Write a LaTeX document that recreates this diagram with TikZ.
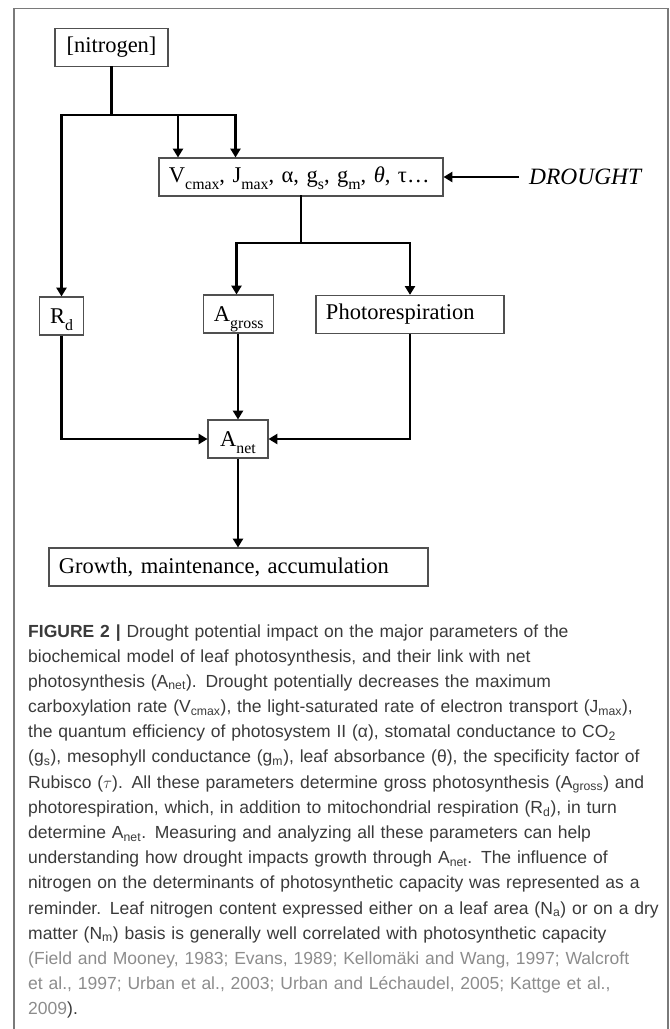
\documentclass[tikz,border=0pt]{standalone}
\usepackage{fontspec}
\setmainfont{Liberation Serif}
\newfontfamily\capfont{Liberation Sans}
\usepackage{tikz}
\usetikzlibrary{arrows.meta}
\definecolor{capgray}{HTML}{3A3A3A}
\definecolor{refgray}{HTML}{8C8C8C}
\definecolor{boxgray}{HTML}{505050}
\definecolor{framegray}{HTML}{7A7A7A}
\newcommand\lowsub[1]{\raisebox{-0.3em}[0pt][0pt]{\fontsize{13.5}{14}\selectfont #1}}

\begin{document}
\begin{tikzpicture}[x=0.03cm,y=-0.03cm]
\tikzstyle{every node}+=[inner sep=0pt]
\tikzstyle{box}=[draw=boxgray, line width=0.9pt, minimum height=1.14cm, font=\fontsize{19.2}{22}\selectfont]
\tikzstyle{lbox}=[box, inner xsep=0.3cm, align=left]
\tikzstyle{link}=[line width=1.9pt, line cap=rect]
\tikzstyle{arr}=[line width=1.9pt, -{Triangle[length=7.5pt,width=8.5pt]}]
\useasboundingbox (0,0) rectangle (670,1029);
\draw [framegray, line width=1pt] (14,1030) -- (14,8.3) -- (668,8.3) -- (668,1030);
% boxes
\node [box, minimum width=3.39cm] (nitro) at (111.5,47.5) {[nitrogen]};
\node [lbox, text width=7.92cm] (params) at (301,177)
  {\mbox{V\lowsub{cmax}, J\lowsub{max}, α, g\lowsub{s}, g\lowsub{m}, {\itshape θ}, τ\ldots}};
\node [anchor=west, inner xsep=0.3cm, font=\fontsize{20}{22}\selectfont\itshape] (drought) at (519,177) {DROUGHT};
\node [box, minimum width=1.3cm] (rd) at (61.5,316) {R\lowsub{d}};
\node [box, minimum width=2.1cm] (agross) at (238.8,314) {A\lowsub{gross}};
\node [lbox, text width=5.04cm] (photo) at (410,314.4) {Photorespiration};
\node [box, minimum width=1.8cm] (anet) at (238,439) {A\lowsub{net}};
\node [lbox, text width=10.77cm] (growth) at (238.5,567) {Growth, maintenance, accumulation};
% splits
\coordinate (nsplit) at (111.5,115);
\coordinate (nleft) at (61.5,115);
\coordinate (nmid) at (178,115);
\coordinate (nright) at (235.5,115);
\coordinate (psplit) at (301,243);
\coordinate (pleft) at (236.5,243);
\coordinate (pright) at (410,243);
% connectors
\draw [link] (nitro.south) -- (nsplit);
\draw [link] (nleft) -- (nright);
\draw [arr] (nleft) -- (rd.north);
\draw [arr] (nmid) -- (nmid |- params.north);
\draw [arr] (nright) -- (nright |- params.north);
\draw [arr] (drought.west) -- (params.east);
\draw [link] (params.south) -- (psplit);
\draw [link] (pleft) -- (pright);
\draw [arr] (pleft) -- (pleft |- agross.north);
\draw [arr] (pright) -- (photo.north);
\draw [arr] (rd.south) |- (anet.west);
\draw [arr] (anet.north |- agross.south) -- (anet.north);
\draw [arr] (photo.south) |- (anet.east);
\draw [arr] (anet.south) -- (anet.south |- growth.north);
% caption
\node [anchor=base west, text width=21cm, align=left, text=capgray,
  font=\capfont\fontsize{14.95}{21.5}\selectfont] (caption) at (28,637)
{{\bfseries FIGURE 2 |} Drought potential impact on the major parameters of the\\
biochemical model of leaf photosynthesis, and their link with net\\
photosynthesis (A\textsubscript{net}). Drought potentially decreases the maximum\\
carboxylation rate (V\textsubscript{cmax}), the light-saturated rate of electron transport (J\textsubscript{max}),\\
the quantum efficiency of photosystem II (α), stomatal conductance to CO\textsubscript{2}\\
(g\textsubscript{s}), mesophyll conductance (g\textsubscript{m}), leaf absorbance (θ), the specificity factor of\\
Rubisco ($\tau$). All these parameters determine gross photosynthesis (A\textsubscript{gross}) and\\
photorespiration, which, in addition to mitochondrial respiration (R\textsubscript{d}), in turn\\
determine A\textsubscript{net}. Measuring and analyzing all these parameters can help\\
understanding how drought impacts growth through A\textsubscript{net}. The influence of\\
nitrogen on the determinants of photosynthetic capacity was represented as a\\
reminder. Leaf nitrogen content expressed either on a leaf area (N\textsubscript{a}) or on a dry\\
matter (N\textsubscript{m}) basis is generally well correlated with photosynthetic capacity\\
{\color{refgray}(Field and Mooney, 1983; Evans, 1989; Kellomäki and Wang, 1997; Walcroft}\\
{\color{refgray}et al., 1997; Urban et al., 2003; Urban and Léchaudel, 2005; Kattge et al.,}\\
{\color{refgray}2009}).};
\end{tikzpicture}
\end{document}
